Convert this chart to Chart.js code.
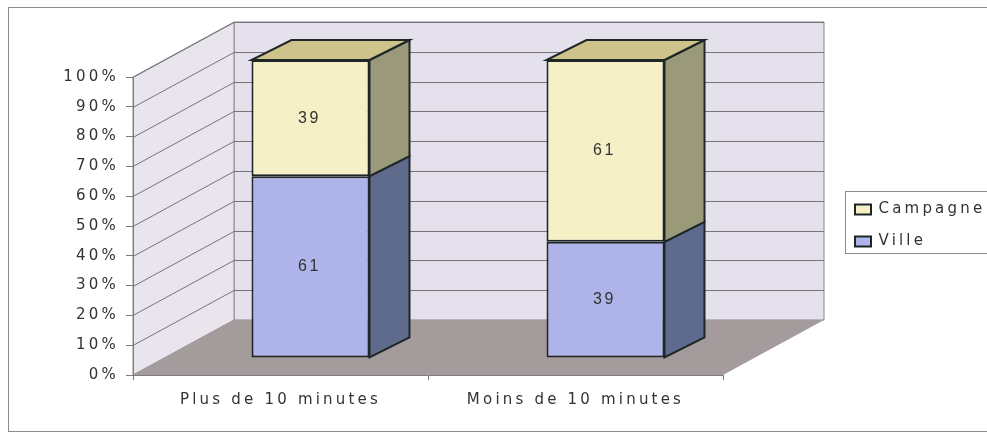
<!DOCTYPE html>
<html><head><meta charset="utf-8">
<style>html,body{margin:0;padding:0;background:#fff}canvas{display:block}</style>
<script src="https://cdn.jsdelivr.net/npm/chart.js@4"></script>
</head><body>
<canvas id="c" width="987" height="434"></canvas>
<script>
const categories = ["Plus de 10 minutes", "Moins de 10 minutes"];
const ville = [61, 39];
const campagne = [39, 61];
const yTickStep = 10;

const COL = {
  frame:'#8b8b8b', wallBack:'#e4e0ec', wallLeft:'#e8e5ec', floor:'#a49b9d',
  grid:'#77737a', wallEdge:'#8d8590', axis:'#7c7c7c', text:'#333333', ink:'#1e2626',
  yellow:'#f6f0c6', blue:'#aeb4e9', top:'#cfc38c', sideYellow:'#9a9a7a', sideBlue:'#5f6b8c'
};
// 3D projection: wall depth and bar placement inside the depth
const DEPTH = {x:101, y:-55};
const BAR_SHIFT = {x:30, y:-17};
const BAR_DEPTH = {x:40, y:-20};
const SPACING = '3.2px';

function poly(ctx, pts, fill, stroke, lw){
  ctx.beginPath();
  pts.forEach((p,i)=> i ? ctx.lineTo(p[0],p[1]) : ctx.moveTo(p[0],p[1]));
  ctx.closePath();
  if(fill){ctx.fillStyle=fill;ctx.fill();}
  if(stroke){ctx.strokeStyle=stroke;ctx.lineWidth=lw||1;ctx.stroke();}
}

const scene = {
  id:'scene',
  beforeUpdate(chart){ chart.ctx.letterSpacing = SPACING; },
  afterLayout(chart){
    const l = chart.legend;
    l.left = 838; l.right = 1000; l.top = 185; l.bottom = 300;
  },
  beforeDraw(chart){
    const {ctx, chartArea:a, scales:{y}} = chart;
    ctx.letterSpacing = SPACING;
    ctx.save();
    ctx.strokeStyle = COL.frame; ctx.lineWidth = 1;
    ctx.strokeRect(8.5, 7.5, 1000, 424);
    const L=a.left,R=a.right,T=a.top,B=a.bottom,dx=DEPTH.x,dy=DEPTH.y;
    poly(ctx,[[L+dx,T+dy],[R+dx,T+dy],[R+dx,B+dy],[L+dx,B+dy]],COL.wallBack,COL.wallEdge);
    poly(ctx,[[L,T],[L+dx,T+dy],[L+dx,B+dy],[L,B]],COL.wallLeft,COL.wallEdge);
    poly(ctx,[[L,B],[R,B],[R+dx,B+dy],[L+dx,B+dy]],COL.floor);
    ctx.strokeStyle = COL.grid; ctx.lineWidth = 1;
    y.ticks.forEach(t=>{
      if(t.value===0) return;
      const py = Math.round(y.getPixelForValue(t.value))+0.5;
      ctx.beginPath();
      ctx.moveTo(L,py); ctx.lineTo(L+dx,py+dy); ctx.lineTo(R+dx,py+dy);
      ctx.stroke();
    });
    // legend frame
    ctx.fillStyle='#fff';
    ctx.fillRect(845.5,191.5,200,62);
    ctx.strokeStyle=COL.frame;
    ctx.strokeRect(845.5,191.5,200,62);
    ctx.restore();
  },
  beforeDatasetsDraw(chart){
    const {ctx} = chart;
    ctx.save();
    ctx.translate(BAR_SHIFT.x, BAR_SHIFT.y);
    const bx=BAR_DEPTH.x, by=BAR_DEPTH.y;
    const lower = chart.getDatasetMeta(0).data, upper = chart.getDatasetMeta(1).data;
    [[lower,COL.sideBlue],[upper,COL.sideYellow]].forEach(([bars,col])=>{
      bars.forEach(b=>{
        const r=b.x+b.width/2;
        poly(ctx,[[r,b.y],[r+bx,b.y+by],[r+bx,b.base+by],[r,b.base]],col,COL.ink,2);
      });
    });
    upper.forEach(b=>{
      const l=b.x-b.width/2,r=b.x+b.width/2;
      poly(ctx,[[l,b.y],[r,b.y],[r+bx,b.y+by],[l+bx,b.y+by]],COL.top,COL.ink,2);
    });
  },
  afterDatasetsDraw(chart){
    const {ctx,data} = chart;
    ctx.letterSpacing='2.5px';
    ctx.font='16px "Liberation Sans"';
    ctx.fillStyle=COL.text;
    ctx.textAlign='center'; ctx.textBaseline='middle';
    data.datasets.forEach((ds,i)=>{
      chart.getDatasetMeta(i).data.forEach((b,j)=>{
        const c=b.getCenterPoint();
        ctx.fillText(String(ds.data[j]), c.x-1, c.y);
      });
    });
    ctx.restore();
    ctx.letterSpacing=SPACING;
  }
};

new Chart(document.getElementById('c'),{
  type:'bar',
  data:{labels:categories,datasets:[
    {label:'Ville',data:ville,backgroundColor:COL.blue,borderColor:COL.ink,borderWidth:2,borderSkipped:false,clip:false},
    {label:'Campagne',data:campagne,backgroundColor:COL.yellow,borderColor:COL.ink,borderWidth:2,borderSkipped:false,clip:false}
  ]},
  options:{
    responsive:false,animation:false,
    layout:{padding:{top:77,right:264,left:0,bottom:0}},
    datasets:{bar:{barPercentage:0.4,categoryPercentage:1}},
    scales:{
      x:{stacked:true,
        afterFit(s){s.height=59;},
        border:{color:COL.axis,width:1},
        grid:{drawOnChartArea:false,color:COL.axis,tickLength:5,offset:true},
        ticks:{color:COL.text,font:{family:'DejaVu Sans',size:15},padding:11,maxRotation:0}},
      y:{stacked:true,min:0,max:100,
        afterFit(s){s.width=133;},
        border:{color:COL.axis,width:1},
        grid:{drawOnChartArea:false,color:COL.axis,tickLength:7},
        ticks:{stepSize:yTickStep,color:COL.text,font:{family:'DejaVu Sans',size:15},padding:7,callback:v=>v+'%'}}
    },
    plugins:{
      tooltip:{enabled:false},
      legend:{position:'chartArea',align:'start',reverse:true,
        labels:{boxWidth:16,boxHeight:10,padding:17,color:COL.text,font:{family:'DejaVu Sans',size:15}}}
    }
  },
  plugins:[scene]
});
</script>
</body></html>
